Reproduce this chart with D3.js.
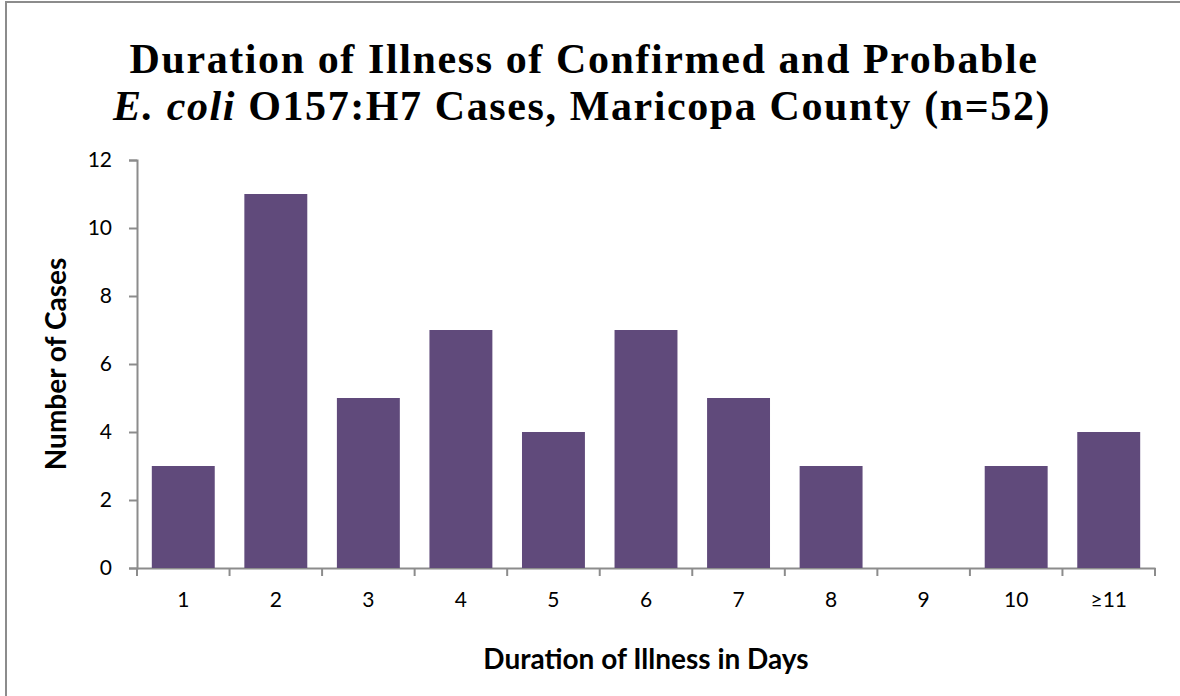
<!DOCTYPE html>
<html>
<head>
<meta charset="utf-8">
<script src="https://cdn.jsdelivr.net/npm/d3@7"></script>
<style>
  body { margin: 0; background: #fff; }
  svg { display: block; }
</style>
</head>
<body>
<div class="chart"></div>
<script>
var categories = ['1', '2', '3', '4', '5', '6', '7', '8', '9', '10', '\u226511'];
var cases = [3, 11, 5, 7, 4, 7, 5, 3, 0, 3, 4];
var yTicks = [0, 2, 4, 6, 8, 10, 12];

var margin = {top: 160, right: 25, bottom: 128, left: 137};
var W = 1180, H = 696;
var width = W - margin.left - margin.right;
var height = H - margin.top - margin.bottom;

var root = d3.select('.chart')
  .append('svg')
    .attr('width', W)
    .attr('height', H);

// chart frame (only left and top edges visible)
root.append('path')
  .attr('d', 'M6,' + H + 'V2H' + W)
  .attr('fill', 'none')
  .attr('stroke', '#8c8c8c')
  .attr('stroke-width', 2);

// two title lines, kept as separate texts
root.append('text')
  .attr('x', 584).attr('y', 73)
  .attr('text-anchor', 'middle')
  .style('font-family', '"Liberation Serif", serif')
  .style('font-weight', 'bold')
  .style('font-size', '42px')
  .style('letter-spacing', '1.6px')
  .text('Duration of Illness of Confirmed and Probable');

var l2 = root.append('text')
  .attr('x', 582).attr('y', 120)
  .attr('text-anchor', 'middle')
  .style('font-family', '"Liberation Serif", serif')
  .style('font-weight', 'bold')
  .style('font-size', '42px')
  .style('letter-spacing', '1.6px');
l2.append('tspan').style('font-style', 'italic').text('E. coli');
l2.append('tspan').text(' O157:H7 Cases, Maricopa County (n=52)');

var svg = root.append('g')
  .attr('transform', `translate(${margin.left}, ${margin.top})`);

var yScale = d3.scaleLinear()
  .domain([0, 12])
  .range([height, 0]);

var xScale = d3.scaleBand()
  .domain(categories)
  .range([0, width])
  .paddingInner(0.32)
  .paddingOuter(0.16);

var yAxis = d3.axisLeft(yScale)
  .tickValues(yTicks)
  .tickSizeOuter(0)
  .tickSize(8)
  .tickPadding(17);

var gy = svg.append('g').call(yAxis);

var gx = svg.append('g')
  .attr('transform', `translate(0, ${height})`)
  .call(d3.axisBottom(xScale).tickSize(0).tickPadding(24));

// category boundary ticks
var step = xScale.step();
svg.append('g')
  .selectAll('line')
  .data(d3.range(categories.length + 1))
  .enter()
  .append('line')
    .attr('x1', d => d * step)
    .attr('x2', d => d * step)
    .attr('y1', height)
    .attr('y2', height + 8)
    .attr('stroke', '#8c8c8c')
    .attr('stroke-width', 2);

[gx, gy].forEach(function(g) {
  g.selectAll('path, line').attr('stroke', '#8c8c8c').attr('stroke-width', 2);
  g.selectAll('text')
    .style('font-family', 'Lato, "Open Sans", sans-serif')
    .style('font-size', '21px')
    .attr('fill', '#000');
});

svg.selectAll('rect.bar')
  .data(cases)
  .enter()
  .append('rect')
    .attr('class', 'bar')
    .attr('x', (d, i) => xScale(categories[i]))
    .attr('y', d => yScale(d))
    .attr('width', xScale.bandwidth())
    .attr('height', d => height - yScale(d))
    .attr('fill', '#604a7b');

root.append('text')
  .attr('x', 646)
  .attr('y', 669)
  .attr('text-anchor', 'middle')
  .style('font-family', 'Lato, "Open Sans", sans-serif')
  .style('font-weight', 'bold')
  .style('font-size', '28px')
  .text('Duration of Illness in Days');

root.append('text')
  .attr('transform', 'translate(66, 364) rotate(-90)')
  .attr('text-anchor', 'middle')
  .style('font-family', 'Lato, "Open Sans", sans-serif')
  .style('font-weight', 'bold')
  .style('font-size', '28px')
  .text('Number of Cases');
</script>
</body>
</html>
